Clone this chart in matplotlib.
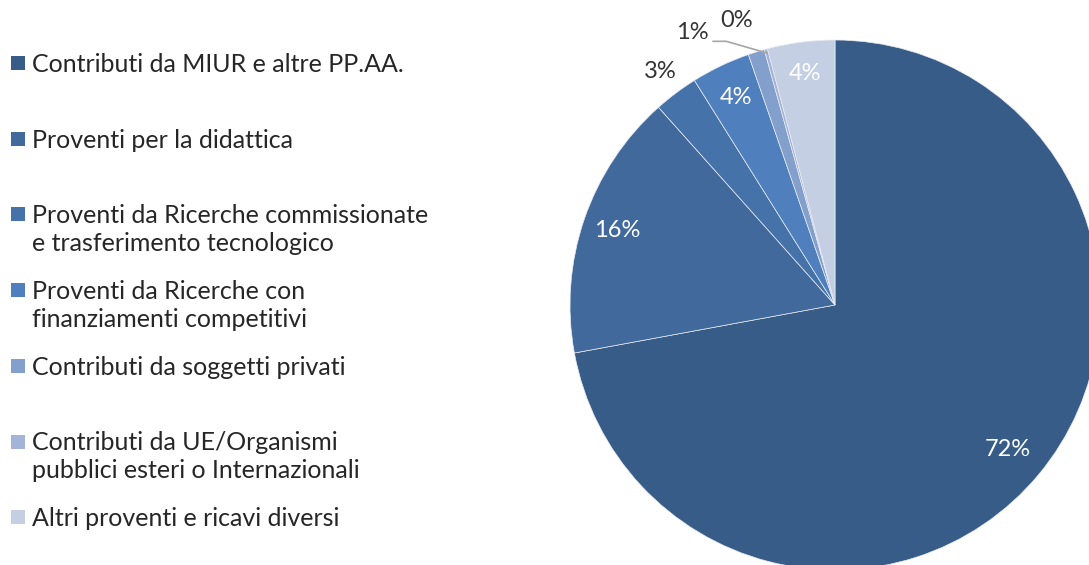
import matplotlib
matplotlib.use("Agg")
import matplotlib.pyplot as plt
import numpy as np
from matplotlib.patches import Rectangle

categories = [
    "Contributi da MIUR e altre PP.AA.",
    "Proventi per la didattica",
    "Proventi da Ricerche commissionate\ne trasferimento tecnologico",
    "Proventi da Ricerche con\nfinanziamenti competitivi",
    "Contributi da soggetti privati",
    "Contributi da UE/Organismi\npubblici esteri o Internazionali",
    "Altri proventi e ricavi diversi",
]
values = [72.1, 16.3, 2.7, 3.6, 1.0, 0.2, 4.1]
pct_labels = ["72%", "16%", "3%", "4%", "1%", "0%", "4%"]
colors = ["#385C88", "#41699C", "#4672AA", "#4F80BD", "#839FCB", "#A3B4D7", "#C4CFE3"]

FONT = ["Lato", "DejaVu Sans"]
plt.rcParams["font.family"] = FONT

W, H = 1089, 565
fig = plt.figure(figsize=(W / 100, H / 100), dpi=100)

cx, cy, R = 835, 305, 265
ax = fig.add_axes([(cx - R) / W, (H - cy - R) / H, 2 * R / W, 2 * R / H])
wedges, _ = ax.pie(values, colors=colors, startangle=90, counterclock=False,
                   radius=1.0, wedgeprops=dict(linewidth=0.5, edgecolor="#E8ECF2"))
ax.set_xlim(-1, 1)
ax.set_ylim(-1, 1)
ax.set_aspect("equal")
ax.axis("off")

PCT_FS = 17
inside = {0: 0.85, 1: 0.87, 3: 0.87, 6: 0.88}
for i, w in enumerate(wedges):
    ang = np.deg2rad((w.theta1 + w.theta2) / 2)
    if i in inside:
        r = inside[i]
        ax.text(r * np.cos(ang), r * np.sin(ang), pct_labels[i], color="white",
                ha="center", va="center", fontsize=PCT_FS)
    elif i == 2:
        r = 1.10
        ax.text(r * np.cos(ang), r * np.sin(ang), pct_labels[i], color="#333333",
                ha="center", va="center", fontsize=PCT_FS, clip_on=False)
    elif i == 4:
        ax.text(-0.54, 1.03, pct_labels[i], color="#333333", ha="center",
                va="center", fontsize=PCT_FS, clip_on=False)
    elif i == 5:
        ax.text(-0.37, 1.075, pct_labels[i], color="#333333", ha="center",
                va="center", fontsize=PCT_FS, clip_on=False)
        ex, ey = 0.985 * np.cos(ang), 0.985 * np.sin(ang)
        ax.plot([-0.46, -0.41, ex], [0.995, 0.995, ey], color="#A6A6A6", lw=1.2,
                clip_on=False)

# legend
base0, step, lh = 72, 75.7, 28
for i, (lab, c) in enumerate(zip(categories, colors)):
    b = base0 + i * step
    fig.patches.append(Rectangle((11 / W, 1 - (b - 2) / H), 14 / W, 14 / H,
                                 transform=fig.transFigure, facecolor=c,
                                 edgecolor="none"))
    for j, line in enumerate(lab.split("\n")):
        fig.text(32 / W, 1 - (b + j * lh) / H, line, ha="left", va="baseline",
                 fontsize=18, color="#262626")

fig.savefig("out.png", dpi=100)
